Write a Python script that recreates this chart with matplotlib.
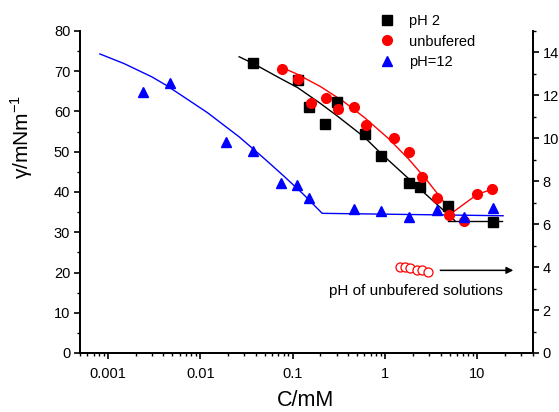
import matplotlib
matplotlib.use("Agg")
import matplotlib.pyplot as plt
from matplotlib.ticker import NullFormatter, MultipleLocator, LogLocator

plt.rcParams['font.family'] = ['Liberation Sans', 'DejaVu Sans']
plt.rcParams['mathtext.fontset'] = 'custom'
plt.rcParams['mathtext.rm'] = 'Liberation Sans'

# ---- data ----
ph2_c = [0.0377, 0.114, 0.150, 0.224, 0.303, 0.602, 0.904, 1.80, 2.40, 4.77, 14.6]
ph2_g = [72.0, 67.8, 61.2, 56.8, 62.3, 54.3, 49.0, 42.3, 41.3, 36.4, 32.5]

unb_c = [0.0775, 0.114, 0.157, 0.231, 0.311, 0.462, 0.629, 1.24, 1.83, 2.50, 3.66, 4.97, 7.2, 9.96, 14.5]
unb_g = [70.6, 68.0, 62.2, 63.4, 60.5, 61.0, 56.6, 53.3, 49.9, 43.8, 38.4, 34.3, 32.8, 39.4, 40.7]

ph12_c = [0.00238, 0.00474, 0.019, 0.0374, 0.0745, 0.1125, 0.150, 0.459, 0.91, 1.83, 3.63, 7.2, 14.6]
ph12_g = [64.8, 67.2, 52.5, 50.3, 42.3, 41.7, 38.4, 35.7, 35.3, 33.9, 35.5, 33.9, 36.0]

# fit lines
fit12_c = [0.00082, 0.0015, 0.003, 0.0043, 0.006, 0.012, 0.0264, 0.05, 0.08, 0.13, 0.209, 19.0]
fit12_g = [74.3, 71.9, 68.6, 66.5, 64.3, 59.7, 53.7, 48.2, 44.0, 39.5, 34.7, 34.1]

fit2_c = [0.0264, 0.0377, 0.07, 0.114, 0.2, 0.3, 0.6, 0.904, 2.3, 5.7]
fit2_g = [73.6, 71.9, 68.5, 65.9, 62.0, 59.0, 53.6, 49.6, 41.1, 32.9]
fit2_flat_c = [4.8, 18.4]
fit2_flat_g = [32.9, 32.9]

fitu_c = [0.074, 0.114, 0.2, 0.35, 0.6, 1.09, 1.8, 2.8, 4.0, 5.3, 9.96, 14.5]
fitu_g = [71.1, 69.2, 66.2, 62.6, 58.5, 53.3, 48.2, 43.1, 38.6, 34.8, 39.4, 40.7]

# pH of unbuffered solutions (right axis)
phu_c = [1.46, 1.65, 1.87, 2.21, 2.50, 2.90]
phu_v = [3.99, 3.99, 3.96, 3.87, 3.87, 3.77]

xticks = [0.001, 0.01, 0.1, 1, 10]
xticklabels = ['0.001', '0.01', '0.1', '1', '10']

fig = plt.figure(figsize=(5.59, 4.12), dpi=100)
ax = fig.add_axes([80/559, 1-353/412, 453/559, 322/412])
ax2 = ax.twinx()

ax.set_xscale('log')
ax.set_xlim(5e-4, 40)
ax.set_ylim(0, 80)
ax2.set_ylim(0, 15)

ax.plot(fit12_c, fit12_g, color='blue', lw=1.0)
ax.plot(fit2_c, fit2_g, color='black', lw=1.0)
ax.plot(fit2_flat_c, fit2_flat_g, color='black', lw=1.0)
ax.plot(fitu_c, fitu_g, color='red', lw=1.0)

ax.plot(ph2_c, ph2_g, 's', color='black', ms=6.5, label='pH 2', zorder=3)
ax.plot(unb_c, unb_g, 'o', color='red', ms=7, label='unbufered', zorder=3)
ax.plot(ph12_c, ph12_g, '^', color='blue', ms=7.5, label='pH=12', zorder=3)

ax2.plot(phu_c, phu_v, 'o', mfc='white', mec='red', ms=6.5, mew=0.9)
ax2.annotate('', xy=(24.5, 3.85), xytext=(3.97, 3.85),
             arrowprops=dict(arrowstyle='-|>', color='black', lw=1.1,
                             mutation_scale=10, shrinkA=0, shrinkB=0))
ax2.text(2.14, 2.9, 'pH of unbufered solutions', ha='center', va='center', fontsize=11)

# axes styling
for a in (ax, ax2):
    a.spines['top'].set_visible(False)
    for s in ('left', 'right', 'bottom'):
        a.spines[s].set_linewidth(1.3)

ax.set_xticks(xticks)
ax.set_xticklabels(xticklabels)
ax.xaxis.set_minor_locator(LogLocator(base=10, subs=range(2, 10), numticks=20))
ax.xaxis.set_minor_formatter(NullFormatter())
ax.yaxis.set_major_locator(MultipleLocator(10))
ax.yaxis.set_minor_locator(MultipleLocator(5))
ax2.yaxis.set_major_locator(MultipleLocator(2))
ax2.yaxis.set_minor_locator(MultipleLocator(1))

ax.tick_params(axis='both', which='major', direction='out', length=4, width=1.2, labelsize=10.5)
ax.tick_params(axis='both', which='minor', direction='out', length=2.5, width=1.0)
ax.tick_params(axis='x', which='major', pad=6)
ax.tick_params(axis='y', which='major', pad=3)
ax.tick_params(top=False, right=False, which='both')
ax2.tick_params(axis='y', which='major', direction='out', length=4, width=1.2, labelsize=10.5, pad=3)
ax2.tick_params(axis='y', which='minor', direction='out', length=2.5, width=1.0)

ax.set_xlabel('C/mM', fontsize=15.5)
ax.xaxis.set_label_coords(0.497, -0.115)
ax.set_ylabel(r'γ/mNm$^{-1}$', fontsize=15)
ax.yaxis.set_label_coords(-0.099, 0.67)

leg = ax.legend(loc='upper left', bbox_to_anchor=(380/559, 1-14/412),
                bbox_transform=fig.transFigure, frameon=False, fontsize=10.5,
                handlelength=1.0, handletextpad=1.0, labelspacing=0.45,
                borderpad=0, borderaxespad=0)

fig.savefig('out.png', dpi=100)
